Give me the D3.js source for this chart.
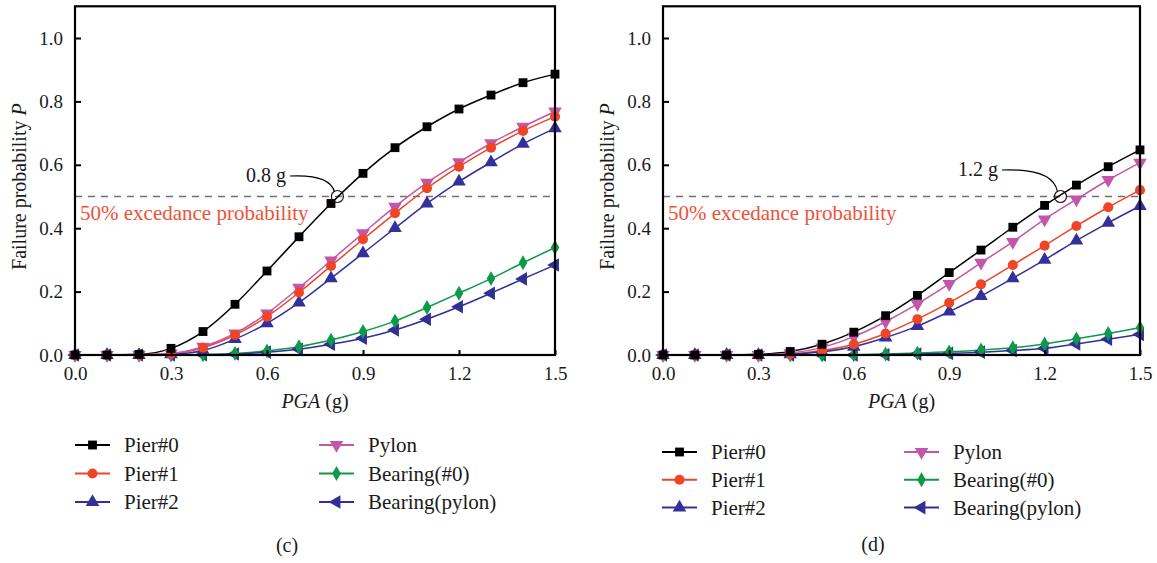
<!DOCTYPE html>
<html>
<head>
<meta charset="utf-8">
<script src="https://cdn.jsdelivr.net/npm/d3@7"></script>
<style>
  html, body { margin: 0; padding: 0; background: #fff; }
  svg { display: block; }
</style>
</head>
<body>
<svg id="chart" width="1157" height="563"></svg>
<script>
// Peak ground acceleration levels (g)
const pga = [0, 0.1, 0.2, 0.3, 0.4, 0.5, 0.6, 0.7, 0.8, 0.9, 1.0, 1.1, 1.2, 1.3, 1.4, 1.5];

// Panel (c) failure probabilities
const pier0C    = [0, 0, 0.002, 0.021, 0.074, 0.160, 0.265, 0.373, 0.478, 0.573, 0.654, 0.720, 0.776, 0.820, 0.859, 0.886];
const pier1C    = [0, 0, 0.001, 0.004, 0.023, 0.063, 0.121, 0.197, 0.281, 0.365, 0.447, 0.526, 0.594, 0.654, 0.707, 0.752];
const pier2C    = [0, 0, 0.000, 0.002, 0.014, 0.050, 0.100, 0.165, 0.242, 0.321, 0.400, 0.478, 0.547, 0.608, 0.666, 0.715];
const pylonC    = [0, 0, 0.001, 0.005, 0.026, 0.068, 0.131, 0.212, 0.298, 0.384, 0.468, 0.544, 0.608, 0.668, 0.720, 0.768];
const bearing0C = [0, 0, 0, 0, 0.001, 0.005, 0.013, 0.026, 0.047, 0.074, 0.107, 0.150, 0.195, 0.241, 0.291, 0.339];
const bearingPC = [0, 0, 0, 0, 0.001, 0.003, 0.009, 0.018, 0.034, 0.053, 0.079, 0.113, 0.152, 0.195, 0.240, 0.284];

// Panel (d) failure probabilities
const pier0D    = [0, 0, 0, 0.002, 0.011, 0.034, 0.072, 0.124, 0.188, 0.260, 0.331, 0.403, 0.472, 0.536, 0.594, 0.647];
const pier1D    = [0, 0, 0, 0, 0.003, 0.014, 0.034, 0.068, 0.113, 0.165, 0.223, 0.284, 0.345, 0.407, 0.466, 0.520];
const pier2D    = [0, 0, 0, 0, 0.002, 0.010, 0.026, 0.055, 0.091, 0.137, 0.186, 0.242, 0.300, 0.361, 0.417, 0.470];
const pylonD    = [0, 0, 0, 0, 0.006, 0.024, 0.058, 0.105, 0.161, 0.224, 0.291, 0.357, 0.428, 0.491, 0.552, 0.607];
const bearing0D = [0, 0, 0, 0, 0, 0, 0.001, 0.003, 0.006, 0.010, 0.016, 0.023, 0.035, 0.051, 0.068, 0.086];
const bearingPD = [0, 0, 0, 0, 0, 0, 0, 0.001, 0.003, 0.005, 0.009, 0.014, 0.021, 0.035, 0.050, 0.065];

// Series names and axis ticks
const seriesNames = ["Pier#0", "Pier#1", "Pier#2", "Pylon", "Bearing(#0)", "Bearing(pylon)"];
const xTicks = [0, 0.3, 0.6, 0.9, 1.2, 1.5];
const yTicks = [0, 0.2, 0.4, 0.6, 0.8, 1.0];
const threshold = 0.5;
const thresholdLabel = "50% excedance probability";
const medianC = 0.82, medianLabelC = "0.8 g";
const medianD = 1.25, medianLabelD = "1.2 g";

const FONT = "'Liberation Serif', 'DejaVu Serif', serif";

// Series styling: colour and marker
const styles = [
  { color: "#000000", symbol: d3.symbolSquare,   rot: 0,   size: 78 },
  { color: "#ee4526", symbol: d3.symbolCircle,   rot: 0,   size: 80 },
  { color: "#34309a", symbol: d3.symbolTriangle, rot: 0,   size: 80 },
  { color: "#c257aa", symbol: d3.symbolTriangle, rot: 180, size: 80 },
  { color: "#0c9a48", symbol: d3.symbolDiamond,  rot: 0,   size: 64 },
  { color: "#2f2f95", symbol: d3.symbolTriangle, rot: -90, size: 80 }
];

const svg = d3.select("#chart");

function drawPanel(cfg) {
  const x = d3.scaleLinear().domain([0, 1.5]).range([cfg.left, cfg.right]);
  const y = d3.scaleLinear().domain([0, 1.1]).range([cfg.bottom, cfg.bottom - 1.1 * 317]);
  const g = svg.append("g");

  // threshold line
  g.append("line")
    .attr("x1", x(0)).attr("x2", x(1.5))
    .attr("y1", y(threshold)).attr("y2", y(threshold))
    .attr("stroke", "#707070").attr("stroke-width", 1.6)
    .attr("stroke-dasharray", "7,6");

  g.append("text")
    .attr("x", x(0) + 5).attr("y", y(threshold) + 23)
    .attr("font-size", 21).attr("fill", "#ee5238")
    .text(thresholdLabel);

  // curves
  const line = d3.line().x(d => x(d[0])).y(d => y(d[1])).curve(d3.curveMonotoneX);
  cfg.series.forEach((vals, i) => {
    const pts = pga.map((p, k) => [p, vals[k]]);
    g.append("path").datum(pts)
      .attr("d", line).attr("fill", "none")
      .attr("stroke", styles[i].color).attr("stroke-width", 1.5);
  });
  // markers (drawn bottom series first so the upper ones sit on top)
  cfg.series.slice().reverse().forEach((vals, ri) => {
    const i = cfg.series.length - 1 - ri;
    const st = styles[i];
    const sym = d3.symbol().type(st.symbol).size(st.size);
    g.append("g").selectAll("path").data(pga.map((p, k) => [p, vals[k]]))
      .join("path")
      .attr("d", sym)
      .attr("transform", d => `translate(${x(d[0])},${y(d[1])}) rotate(${st.rot})`)
      .attr("fill", st.color);
  });

  // axes frame
  g.append("rect")
    .attr("x", x(0)).attr("y", y(1.1))
    .attr("width", x(1.5) - x(0)).attr("height", y(0) - y(1.1))
    .attr("fill", "none").attr("stroke", "#000").attr("stroke-width", 2.2);

  const xAxis = d3.axisBottom(x).tickValues(xTicks).tickFormat(d3.format(".1f"))
    .tickSizeInner(-5).tickSizeOuter(0).tickPadding(12);
  const gx = g.append("g").attr("transform", `translate(0,${y(0)})`).call(xAxis);
  const yAxis = d3.axisLeft(y).tickValues(yTicks).tickFormat(d3.format(".1f"))
    .tickSizeInner(-6).tickSizeOuter(0).tickPadding(12);
  const gy = g.append("g").attr("transform", `translate(${x(0)},0)`).call(yAxis);
  [gx, gy].forEach(a => {
    a.attr("font-family", null).attr("font-size", null);
    a.select(".domain").remove();
    a.selectAll(".tick line").attr("stroke", "#000").attr("stroke-width", 2);
    a.selectAll(".tick text").attr("font-size", 19).attr("fill", "#1a1a1a");
  });

  // axis titles
  const xt = g.append("text").attr("x", (x(0) + x(1.5)) / 2).attr("y", y(0) + 53)
    .attr("text-anchor", "middle").attr("font-size", 20);
  xt.append("tspan").attr("font-style", "italic").text("PGA");
  xt.append("tspan").text(" (g)");

  const yt = g.append("text")
    .attr("transform", `translate(${x(0) - 49},${(y(0) + y(1.1)) / 2 + 6}) rotate(-90)`)
    .attr("text-anchor", "middle").attr("font-size", 20);
  yt.append("tspan").text("Failure probability ");
  yt.append("tspan").attr("font-style", "italic").text("P");

  // median annotation
  const cx = x(cfg.median), cy = y(threshold);
  g.append("circle").attr("cx", cx).attr("cy", cy).attr("r", 6)
    .attr("fill", "none").attr("stroke", "#2a1010").attr("stroke-width", 1.2);
  const tx = cfg.annX, ty = cfg.annY;
  g.append("text").attr("x", tx).attr("y", ty).attr("font-size", 20)
    .attr("text-anchor", "end").text(cfg.medianLabel);
  g.append("path")
    .attr("d", `M${tx + 4},${ty - 6} Q${cx - 8},${ty - 8} ${cx - 3},${cy - 5}`)
    .attr("fill", "none").attr("stroke", "#000").attr("stroke-width", 1.2);

  // legend
  seriesNames.forEach((name, i) => {
    const col = i < 3 ? 0 : 1;
    const row = i % 3;
    const lx = cfg.legX[col], ly = cfg.legY + row * cfg.legDy;
    const st = styles[i];
    g.append("line").attr("x1", lx).attr("x2", lx + 35).attr("y1", ly).attr("y2", ly)
      .attr("stroke", st.color).attr("stroke-width", 2);
    g.append("path").attr("d", d3.symbol().type(st.symbol).size(st.size)())
      .attr("transform", `translate(${lx + 17.5},${ly}) rotate(${st.rot})`)
      .attr("fill", st.color);
    g.append("text").attr("x", lx + 49).attr("y", ly + 7).attr("font-size", 21).text(name);
  });

  g.append("text").attr("x", cfg.tagX).attr("y", cfg.tagY)
    .attr("text-anchor", "middle").attr("font-size", 20).text(cfg.tag);
}

drawPanel({
  left: 75, right: 555, bottom: 355,
  series: [pier0C, pier1C, pier2C, pylonC, bearing0C, bearingPC],
  median: medianC, medianLabel: medianLabelC, annX: 286, annY: 182,
  legX: [75, 319], legY: 445, legDy: 28.5,
  tag: "(c)", tagX: 287, tagY: 552
});

drawPanel({
  left: 663, right: 1140, bottom: 355,
  series: [pier0D, pier1D, pier2D, pylonD, bearing0D, bearingPD],
  median: medianD, medianLabel: medianLabelD, annX: 998, annY: 176,
  legX: [662, 904], legY: 452, legDy: 27.8,
  tag: "(d)", tagX: 873, tagY: 551
});

// one serif face for every label
svg.selectAll("text").style("font-family", FONT);
svg.selectAll("text:not([fill])").attr("fill", "#1a1a1a");
</script>
</body>
</html>
